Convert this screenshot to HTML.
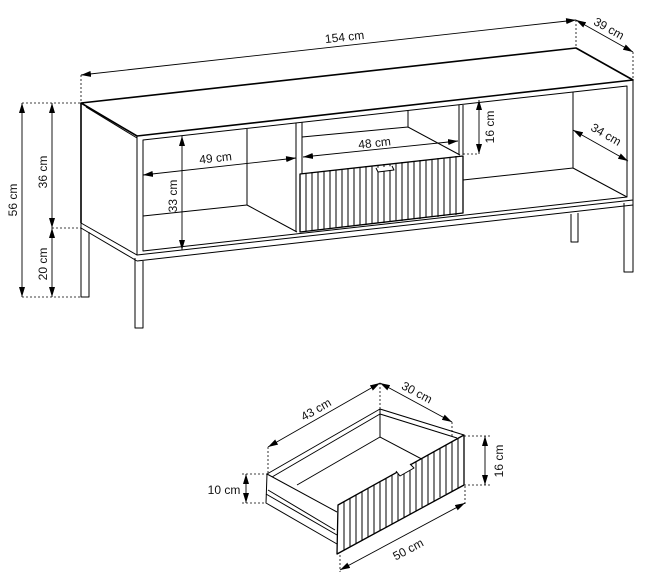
<!DOCTYPE html>
<html><head><meta charset="utf-8"><style>
html,body{margin:0;padding:0;background:#fff;}
svg{display:block;}
text{font-family:"Liberation Sans",Arial,sans-serif;font-size:12px;fill:#111;}
</style></head><body>
<svg width="670" height="586" viewBox="0 0 670 586" xmlns="http://www.w3.org/2000/svg">
<defs>
<marker id="a" viewBox="0 0 10 6" refX="10" refY="3" markerWidth="10" markerHeight="6" orient="auto-start-reverse" markerUnits="userSpaceOnUse"><path d="M0,0 L10,3 L0,6 Z" fill="#000"/></marker>
</defs>
<g fill="none" stroke="#000" stroke-width="1" stroke-linejoin="round">
<!-- top surface -->
<path d="M81,103 L576,48 L633,80 L137,136 Z" fill="#fff" stroke-width="1.6"/>
<!-- left side panel -->
<path d="M81,103 L137,136 L137,255 L81,223 Z"/>
<path d="M81,103 L81,223" stroke-width="1.6"/>
<path d="M86,107 L137,138"/>
<path d="M81,228 L137,261"/>
<!-- front frame -->
<path d="M137,136 L137,255 L633,200 L633,80"/>
<path d="M143,140 L627,86 L627,197 L143,251 Z"/>
<path d="M137,261 L633,205"/>
<!-- left compartment -->
<path d="M247,129 L247,205 L297,232"/>
<path d="M143,216 L247,205"/>
<!-- left divider -->
<path d="M296,123 L296,232 M302,122 L302,174"/>
<!-- middle upper compartment -->
<path d="M302,137 L408,127 L408,110 M408,127 L460,155"/>
<!-- right divider -->
<path d="M459,105 L459,155 M463,105 L463,155"/>
<!-- right compartment -->
<path d="M573,92 L573,168 L627,197 M463,180 L573,168"/>
<!-- legs -->
<path d="M81,223 L81,297 L89,297 L89,232"/>
<path d="M135,258 L135,328 L143,328 L143,261"/>
<path d="M571,214 L571,242 L578,242 L578,213"/>
<path d="M624,203 L624,272 L633,272 L633,200"/>
<!-- main drawer -->
<path d="M300,174 L463,156 L463,213 L300,232 Z" fill="#fff" stroke-width="1.3"/>
<path d="M306,173 L306,231 M312,172 L312,231 M318,172 L318,230 M324,171 L324,229 M330,170 L330,229 M336,170 L336,228 M342,169 L342,227 M348,168 L348,227 M354,168 L354,226 M360,167 L360,225 M366,166 L366,225 M372,166 L372,224 M378,165 L378,223 M384,164 L384,223 M390,164 L390,222 M396,163 L396,221 M402,162 L402,221 M408,162 L408,220 M414,161 L414,219 M420,160 L420,219 M426,160 L426,218 M432,159 L432,217 M438,158 L438,217 M444,158 L444,216 M450,157 L450,215 M456,156 L456,215"/>
<path d="M376,168 L378,172 L394,170 L392,166" fill="#fff"/>
<!-- small drawer -->
<path d="M267,474 L380,409 L464,435 L464,485 L337,554 L337,544 L266,503 Z" fill="#fff"/>
<path d="M267,474 L337,512 M380,409 L380,437 M380,414 L272,477 M380,414 L457,438 M380,437 L297,485 M380,437 L452,475"/>
<path d="M266,494 L337,535 M268,490 L335,530"/>
<path d="M338,505 L464,435 L464,485 L337,554 Z" fill="#fff" stroke-width="1.3"/>
<path d="M344,502 L344,550 M350,498 L350,547 M356,495 L356,544 M362,492 L362,541 M368,488 L368,537 M374,485 L374,534 M380,482 L380,531 M386,478 L386,527 M392,475 L392,524 M398,472 L398,521 M404,468 L404,517 M410,465 L410,514 M416,462 L416,511 M422,458 L422,507 M428,455 L428,504 M434,452 L434,501 M440,448 L440,497 M446,445 L446,494 M452,442 L452,491 M458,438 L458,488"/>
<path d="M396,471 L400,476 L414,468 L410,464" fill="#fff"/>
</g>
<!-- dimension lines -->
<g stroke="#000" stroke-width="0.9" fill="none">
<path d="M81,75 L576,20" marker-start="url(#a)" marker-end="url(#a)"/>
<path d="M576,20 L633,52" marker-start="url(#a)" marker-end="url(#a)"/>
<path d="M22,103 L22,297" marker-start="url(#a)" marker-end="url(#a)"/>
<path d="M52,103 L52,228" marker-start="url(#a)" marker-end="url(#a)"/>
<path d="M52,228 L52,297" marker-start="url(#a)" marker-end="url(#a)"/>
<path d="M182,136 L182,250" marker-start="url(#a)" marker-end="url(#a)"/>
<path d="M143,175 L296,158" marker-start="url(#a)" marker-end="url(#a)"/>
<path d="M303,157 L458,141" marker-start="url(#a)" marker-end="url(#a)"/>
<path d="M479,100 L479,154" marker-start="url(#a)" marker-end="url(#a)"/>
<path d="M573,130 L628,161" marker-start="url(#a)" marker-end="url(#a)"/>
<path d="M268,447 L380,383" marker-start="url(#a)" marker-end="url(#a)"/>
<path d="M380,383 L452,422" marker-start="url(#a)" marker-end="url(#a)"/>
<path d="M485,436 L485,485" marker-start="url(#a)" marker-end="url(#a)"/>
<path d="M246,474 L246,503" marker-start="url(#a)" marker-end="url(#a)"/>
<path d="M340,570 L465,503" marker-start="url(#a)" marker-end="url(#a)"/>
</g>
<g stroke="#000" stroke-width="0.8" stroke-dasharray="2,2" fill="none">
<path d="M81,75 L81,103 M576,20 L576,48 M633,52 L633,80"/>
<path d="M22,103 L81,103 M52,228 L81,228 M22,297 L81,297"/>
<path d="M463,154 L479,154"/>
<path d="M268,447 L268,474 M380,383 L380,409 M452,422 L452,436"/>
<path d="M464,436 L490,436 M464,485 L490,485"/>
<path d="M242,474 L267,474 M242,503 L266,503"/>
<path d="M340,555 L340,572 M465,486 L465,505"/>
</g>
<text x="345" y="41" text-anchor="middle" transform="rotate(-6.3 345 41)">154 cm</text>
<text x="607" y="32" text-anchor="middle" transform="rotate(29 607 32)">39 cm</text>
<text x="17" y="200" text-anchor="middle" transform="rotate(-90 17 200)">56 cm</text>
<text x="47" y="172" text-anchor="middle" transform="rotate(-90 47 172)">36 cm</text>
<text x="47" y="264" text-anchor="middle" transform="rotate(-90 47 264)">20 cm</text>
<text x="177" y="196" text-anchor="middle" transform="rotate(-90 177 196)">33 cm</text>
<text x="216" y="162" text-anchor="middle" transform="rotate(-6.3 216 162)">49 cm</text>
<text x="375" y="147" text-anchor="middle" transform="rotate(-6.3 375 147)">48 cm</text>
<text x="494" y="127" text-anchor="middle" transform="rotate(-90 494 127)">16 cm</text>
<text x="604" y="138" text-anchor="middle" transform="rotate(30 604 138)">34 cm</text>
<text x="318" y="413" text-anchor="middle" transform="rotate(-30 318 413)">43 cm</text>
<text x="415" y="396" text-anchor="middle" transform="rotate(28 415 396)">30 cm</text>
<text x="503" y="461" text-anchor="middle" transform="rotate(-90 503 461)">16 cm</text>
<text x="224" y="494" text-anchor="middle">10 cm</text>
<text x="410" y="553" text-anchor="middle" transform="rotate(-28 410 553)">50 cm</text>
</svg>
</body></html>
